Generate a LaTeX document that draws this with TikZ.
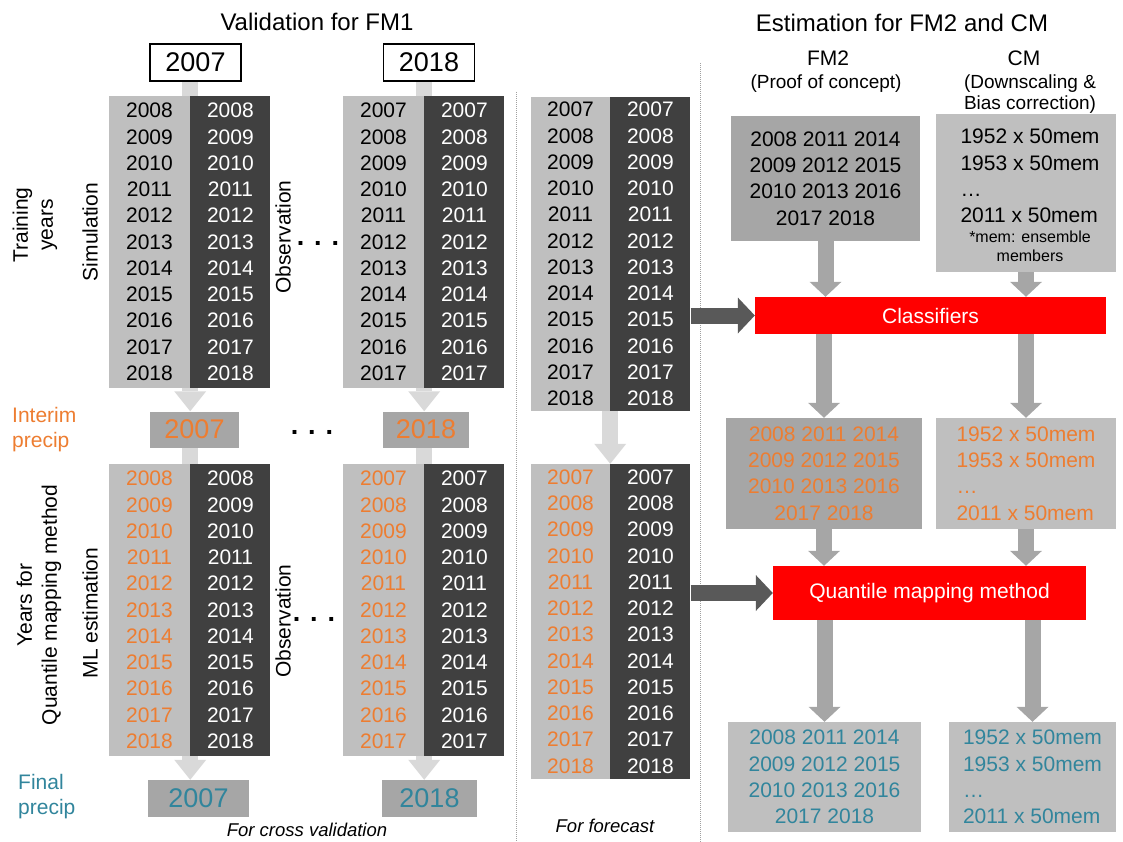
\documentclass[tikz,border=0pt]{standalone}
\usepackage{fontspec}
\setmainfont{Liberation Sans}
\usetikzlibrary{positioning,arrows.meta,backgrounds}

\definecolor{liteCol}{HTML}{BFBFBF}
\definecolor{darkCol}{HTML}{404040}
\definecolor{midBox}{HTML}{A6A6A6}
\definecolor{paleArrow}{HTML}{D9D9D9}
\definecolor{grayArrow}{HTML}{A6A6A6}
\definecolor{darkArrow}{HTML}{595959}
\definecolor{precipOrange}{HTML}{ED7D31}
\definecolor{precipTeal}{HTML}{31859C}
\definecolor{methodRed}{HTML}{FF0000}
\definecolor{sepGray}{HTML}{A0A0A0}

\begin{document}
\begin{tikzpicture}[x=1pt, y=-1pt, text=black,
    headtxt/.style={font=\fontsize{24}{28}\selectfont, anchor=base},
    subtxt/.style={font=\fontsize{19}{22}\selectfont, anchor=base},
    lbl/.style={font=\fontsize{21}{25}\selectfont, align=center, inner sep=0pt},
    yrs/.style={font=\fontsize{21}{26.25}\selectfont, align=center, inner sep=0pt},
    simcol/.style={yrs, fill=liteCol, minimum width=81},
    obscol/.style={yrs, fill=darkCol, text=white, minimum width=80},
    bigyear/.style={font=\fontsize{27}{30}\selectfont, inner sep=0pt},
    topbox/.style={bigyear, draw=black, line width=1.5pt, fill=white, minimum width=91, minimum height=37},
    yearbox/.style={bigyear, fill=midBox, minimum height=36},
    listbox/.style={yrs},
    redbox/.style={fill=methodRed, text=white, font=\fontsize{21}{25}\selectfont},
    dotrow/.style={font=\bfseries\fontsize{27}{30}\selectfont, inner sep=0pt},
    notetxt/.style={font=\itshape\fontsize{18.5}{22}\selectfont},
    sepline/.style={draw=sepGray, densely dotted, line width=1pt},
    palearrow/.style={draw=paleArrow, line width=16pt, -{Triangle[width=32pt,length=20pt,line width=0pt]}},
    grayarrow/.style={draw=grayArrow, line width=16pt, -{Triangle[width=32pt,length=15pt,line width=0pt]}},
    darkarrow/.style={draw=darkArrow, line width=16pt, -{Triangle[width=36pt,length=17pt,line width=0pt]}}]
    \useasboundingbox (0,0) rectangle (1123,842);

    % Titles
    \node[headtxt] (valtitle) at (317,31) {Validation for FM1};
    \node[headtxt] (esttitle) at (902,32) {Estimation for FM2 and CM};
    \node[headtxt, font=\fontsize{21}{25}\selectfont] (fm2head) at (828,65.5) {FM2};
    \node[subtxt] (fm2sub) at (826,89) {(Proof of concept)};
    \node[headtxt, font=\fontsize{21}{25}\selectfont] (cmhead) at (1024,65.5) {CM};
    \node[subtxt] (cmsubA) at (1030,89) {(Downscaling \&};
    \node[subtxt] (cmsubB) at (1030,110) {Bias correction)};

    % Separators
    \draw[sepline] (516,92) -- (516,842);
    \draw[sepline] (700,63) -- (700,842);

    % Held-out years
    \node[topbox] (top07) at (195.5,62.5) {2007};
    \node[topbox] (top18) at (429,62.5) {2018};

    % Training columns
    \node[simcol, minimum height=292] (sim07) at (149.5,242) {2008\\2009\\2010\\2011\\2012\\2013\\2014\\2015\\2016\\2017\\2018};
    \node[obscol, minimum height=292, right=0pt of sim07] (obs07) {2008\\2009\\2010\\2011\\2012\\2013\\2014\\2015\\2016\\2017\\2018};
    \node[simcol, minimum height=292] (sim18) at (383.5,242) {2007\\2008\\2009\\2010\\2011\\2012\\2013\\2014\\2015\\2016\\2017};
    \node[obscol, minimum height=292, right=0pt of sim18] (obs18) {2007\\2008\\2009\\2010\\2011\\2012\\2013\\2014\\2015\\2016\\2017};
    \node[simcol, minimum width=79, minimum height=314] (fcsim) at (570.5,254) {2007\\2008\\2009\\2010\\2011\\2012\\2013\\2014\\2015\\2016\\2017\\2018};
    \node[obscol, minimum height=314, right=0pt of fcsim] (fcobs) {2007\\2008\\2009\\2010\\2011\\2012\\2013\\2014\\2015\\2016\\2017\\2018};

    % Interim precip
    \node[yearbox, text=precipOrange, minimum width=89] (int07) at (194.5,429.5) {2007};
    \node[yearbox, text=precipOrange, minimum width=86] (int18) at (426,429.5) {2018};

    % Quantile mapping columns
    \node[simcol, text=precipOrange, minimum height=292] (ml07) at (149.5,610) {2008\\2009\\2010\\2011\\2012\\2013\\2014\\2015\\2016\\2017\\2018};
    \node[obscol, minimum height=292, right=0pt of ml07] (qobs07) {2008\\2009\\2010\\2011\\2012\\2013\\2014\\2015\\2016\\2017\\2018};
    \node[simcol, text=precipOrange, minimum height=292] (ml18) at (383.5,610) {2007\\2008\\2009\\2010\\2011\\2012\\2013\\2014\\2015\\2016\\2017};
    \node[obscol, minimum height=292, right=0pt of ml18] (qobs18) {2007\\2008\\2009\\2010\\2011\\2012\\2013\\2014\\2015\\2016\\2017};
    \node[simcol, text=precipOrange, minimum width=79, minimum height=315] (fcml) at (570.5,621.5) {2007\\2008\\2009\\2010\\2011\\2012\\2013\\2014\\2015\\2016\\2017\\2018};
    \node[obscol, minimum height=315, right=0pt of fcml] (fcqobs) {2007\\2008\\2009\\2010\\2011\\2012\\2013\\2014\\2015\\2016\\2017\\2018};

    % Final precip
    \node[yearbox, text=precipTeal, minimum width=101, minimum height=37] (fin07) at (198.5,798.5) {2007};
    \node[yearbox, text=precipTeal, minimum width=95, minimum height=37] (fin18) at (429.5,798.5) {2018};

    % Side labels
    \node[lbl, rotate=90] (trainlbl) at (35,225) {Training\\years};
    \node[lbl, rotate=90] (simlbl) at (90,232) {Simulation};
    \node[lbl, rotate=90] (obslblA) at (283,237) {Observation};
    \node[lbl, rotate=90] (qmlbl) at (39,605) {Years for\\Quantile mapping method};
    \node[lbl, rotate=90] (mllbl) at (90,613) {ML estimation};
    \node[lbl, rotate=90] (obslblB) at (283,621) {Observation};
    \node[lbl, align=left, anchor=west, text=precipOrange] (interimlbl) at (12,430) {Interim\\precip};
    \node[lbl, align=left, anchor=west, text=precipTeal] (finallbl) at (18,797) {Final\\precip};

    % Skipped folds
    \node[dotrow] (dotsA) at (318,243) {. . .};
    \node[dotrow] (dotsB) at (312,432) {. . .};
    \node[dotrow] (dotsC) at (314,619) {. . .};

    % Notes
    \node[notetxt] (cvnote) at (307,830) {For cross validation};
    \node[notetxt] (fcnote) at (605,826) {For forecast};

    % FM2 and CM inputs
    \node[listbox, fill=midBox, minimum width=189, minimum height=125] (fm2) at (825.5,178.5) {2008 2011 2014\\2009 2012 2015\\2010 2013 2016\\2017 2018};
    \node[fill=liteCol, minimum width=180, minimum height=158] (cm) at (1026,193) {};
    \node[listbox, align=left] (cmyrs) at (1030,176) {1952 x 50mem\\1953 x 50mem\\…\\2011 x 50mem};
    \node[font=\fontsize{16}{19}\selectfont, align=center, inner sep=0pt] (cmnote) at (1030,246.5) {*mem: ensemble\\members};

    % Methods
    \node[redbox, minimum width=351, minimum height=37] (cls) at (930.5,315.5) {Classifiers};
    \node[redbox, minimum width=313, minimum height=54] (qm) at (929.5,593) {Quantile mapping method};

    % Interim outputs
    \node[listbox, fill=midBox, text=precipOrange, minimum width=196, minimum height=111] (fm2i) at (824,473.5) {2008 2011 2014\\2009 2012 2015\\2010 2013 2016\\2017 2018};
    \node[listbox, align=left, fill=liteCol, text=precipOrange, minimum width=180, minimum height=111] (cmi) at (1026,473.5) {1952 x 50mem\\1953 x 50mem\\…\\2011 x 50mem};

    % Final outputs
    \node[listbox, fill=liteCol, text=precipTeal, minimum width=193, minimum height=110] (fm2f) at (824.5,777) {2008 2011 2014\\2009 2012 2015\\2010 2013 2016\\2017 2018};
    \node[listbox, align=left, fill=liteCol, text=precipTeal, minimum width=167, minimum height=110] (cmf) at (1032.5,777) {1952 x 50mem\\1953 x 50mem\\…\\2011 x 50mem};

    % Fold arrows behind the columns
    \begin{scope}[on background layer]
        \draw[palearrow] (top07.south -| sim07.east) -- (int07.north -| sim07.east);
        \draw[palearrow] (int07.south -| ml07.east) -- (fin07.north -| ml07.east);
        \draw[palearrow] (top18.south -| sim18.east) -- (int18.north -| sim18.east);
        \draw[palearrow] (int18.south -| ml18.east) -- (fin18.north -| ml18.east);
        \draw[palearrow] (fcsim.south east) -- (fcml.north east);
    \end{scope}

    % Forecast inputs
    \draw[darkarrow] (fcobs.east |- cls.west) -- (cls.west);
    \draw[darkarrow] (fcqobs.east |- qm.west) -- (qm.west);

    % Estimation flow
    \draw[grayarrow] (fm2.south) -- (fm2.south |- cls.north);
    \draw[grayarrow] (cm.south) -- (cm.south |- cls.north);
    \draw[grayarrow] (cls.south -| fm2i.north) -- (fm2i.north);
    \draw[grayarrow] (cls.south -| cmi.north) -- (cmi.north);
    \draw[grayarrow] (fm2i.south) -- (fm2i.south |- qm.north);
    \draw[grayarrow] (cmi.south) -- (cmi.south |- qm.north);
    \draw[grayarrow] (qm.south -| fm2f.north) -- (fm2f.north);
    \draw[grayarrow] (qm.south -| cmf.north) -- (cmf.north);
\end{tikzpicture}
\end{document}
